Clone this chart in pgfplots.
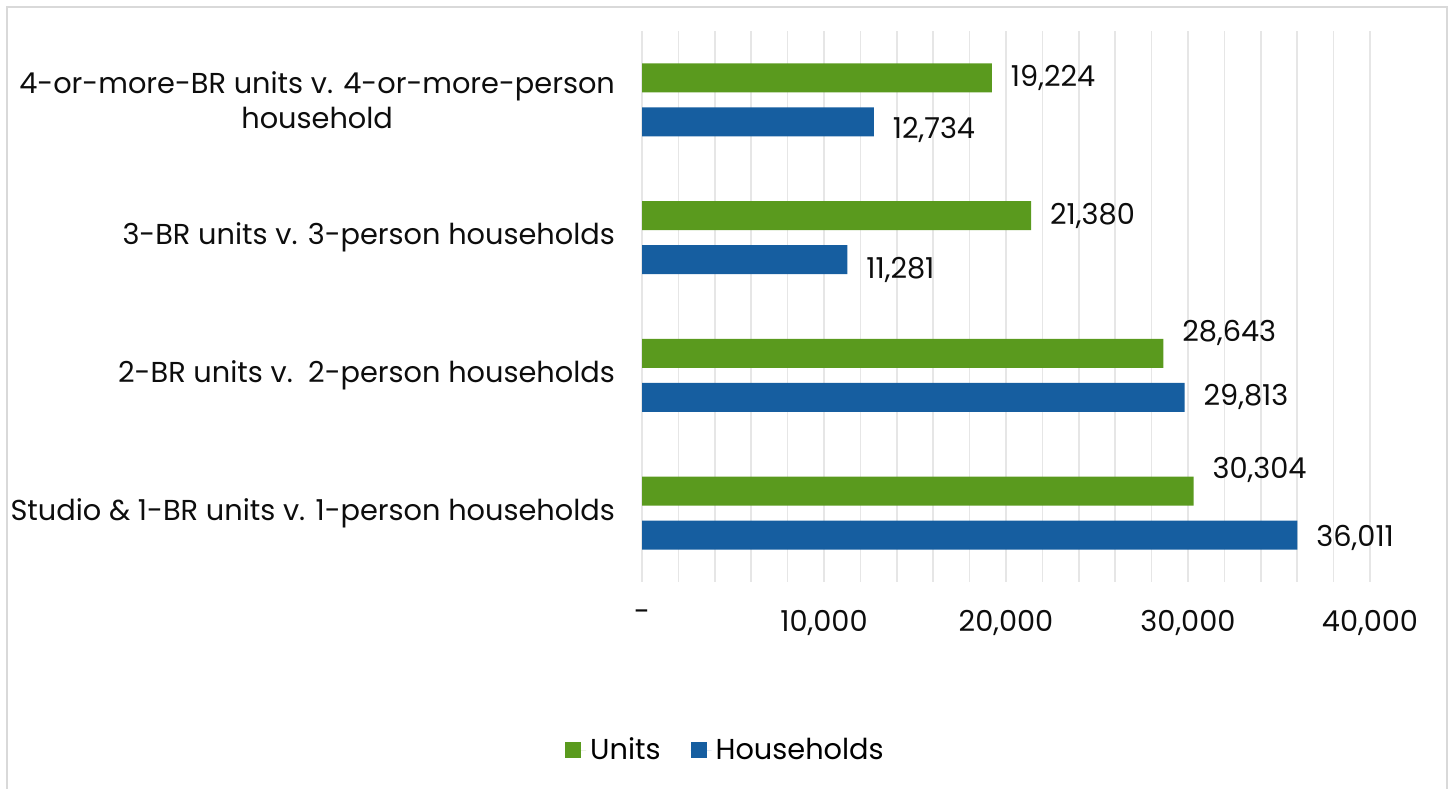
\documentclass[border=0pt]{standalone}
\usepackage{pgfplots}
\pgfplotsset{compat=1.18}
\usepackage{pgfplotstable}
\usepackage{fontspec}
\setmainfont{Poppins}
\definecolor{unitsc}{HTML}{5A9A1E}
\definecolor{housec}{HTML}{165EA0}
\definecolor{gridc}{HTML}{E6E6E6}
\definecolor{framec}{HTML}{D9D9D9}
\definecolor{txt}{HTML}{0D0D0D}
\pgfplotstableread{
y x dy
0 30304 10.5
1 28643 10
2 21380 0
3 19224 0
}\unitsdata
\pgfplotstableread{
y x dy
0 36011 -1.5
1 29813 0
2 11281 -5
3 12734 -4
}\housedata
\begin{document}
\begin{tikzpicture}
\useasboundingbox (0,0) rectangle (725pt,-394pt);
\draw[framec, line width=1pt] (3.5pt,-396pt) -- (3.5pt,-3.5pt) -- (723.5pt,-3.5pt) -- (723.5pt,-396pt);
\begin{axis}[
  at={(321pt,-291pt)}, anchor=south west,
  width=364pt, height=275.5pt, scale only axis,
  xmin=0, xmax=40000, ymin=-0.5, ymax=3.5,
  xbar, bar width=14.5pt,
  axis line style={draw=none},
  font=\fontsize{14.4}{17.5}\selectfont\color{txt},
  /pgf/number format/assume math mode=true,
  xtick={0,10000,20000,30000,40000},
  xticklabels={{-\hspace{8pt}},{10,000},{20,000},{30,000},{40,000}},
  scaled x ticks=false,
  minor x tick num=4,
  xmajorgrids, xminorgrids,
  major grid style={gridc, line width=0.8pt},
  minor grid style={gridc, line width=0.8pt},
  major tick length=0pt, minor tick length=0pt,
  xticklabel style={yshift=-10.5pt},
  ytick={0,1,2,3},
  yticklabels={Studio \& 1-BR units v. 1-person households, 2-BR units v.\ \ 2-person households, 3-BR units v. 3-person households, {4-or-more-BR units v. 4-or-more-person\\household}},
  yticklabel style={align=center, xshift=-10pt},
  legend style={at={(0.116,-0.305)}, anchor=center, draw=none, legend columns=2,
    /tikz/every even column/.append style={column sep=13pt}, font=\fontsize{14.4}{17.5}\selectfont},
  legend image code/.code={\fill[#1] (0pt,-4pt) rectangle (8pt,4pt); \path (0pt,0pt) -- (10.5pt,0pt);},
  nodes near coords={\pgfmathprintnumber[fixed,precision=0,1000 sep={,},assume math mode=true]{\pgfplotspointmeta}},
  nodes near coords style={anchor=west, xshift=6pt, yshift=\dy pt, font=\fontsize{14.4}{17.5}\selectfont\color{txt}},
  visualization depends on={\thisrow{dy} \as \dy},
]
\addplot[fill=unitsc, draw=none, bar shift=11pt, point meta=x] table[x=x,y=y] {\unitsdata};
\addplot[fill=housec, draw=none, bar shift=-11pt, point meta=x] table[x=x,y=y] {\housedata};
\legend{Units, Households}
\end{axis}
\end{tikzpicture}
\end{document}
